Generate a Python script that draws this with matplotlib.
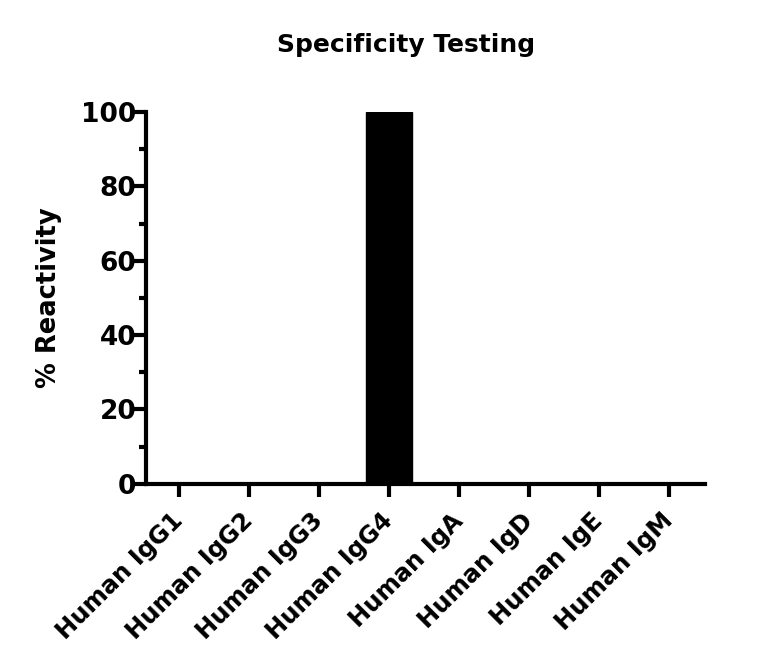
import matplotlib as mpl
import matplotlib.pyplot as plt
from matplotlib.ticker import MultipleLocator

# Data
categories = ['Human IgG1', 'Human IgG2', 'Human IgG3', 'Human IgG4',
              'Human IgA', 'Human IgD', 'Human IgE', 'Human IgM']
reactivity = [0, 0, 0, 100, 0, 0, 0, 0]
y_ticks = [0, 20, 40, 60, 80, 100]

mpl.rcParams['font.family'] = ['DejaVu Sans']
mpl.rcParams['font.weight'] = 'bold'
mpl.rcParams['axes.linewidth'] = 3

fig = plt.figure(figsize=(7.68, 6.71), dpi=100)
ax = fig.add_axes([0.190, 0.279, 0.728, 0.554])

x = range(len(categories))
ax.bar(x, reactivity, width=0.66, color='black', edgecolor='black')

ax.set_xlim(-0.47, 7.51)
ax.set_ylim(0, 100)
ax.set_yticks(y_ticks)
ax.yaxis.set_minor_locator(MultipleLocator(10))
ax.set_xticks(list(x))
ax.set_xticklabels(categories, rotation=45, ha='right', va='center',
                   rotation_mode='anchor', fontsize=17.5, fontweight='bold')
ax.tick_params(axis='x', length=9, width=3, pad=15)
ax.tick_params(axis='y', which='major', length=10, width=3, labelsize=19, pad=-3)
ax.tick_params(axis='y', which='minor', length=5, width=3)
for lab in ax.get_yticklabels():
    lab.set_fontweight('bold')

ax.spines['top'].set_visible(False)
ax.spines['right'].set_visible(False)

ax.set_ylabel('% Reactivity', fontsize=18.5, fontweight='bold', labelpad=14)
fig.text(406 / 768, 1 - 45 / 671, 'Specificity Testing', ha='center', va='center',
         fontsize=18, fontweight='bold')

plt.savefig('out.png', dpi=100)
